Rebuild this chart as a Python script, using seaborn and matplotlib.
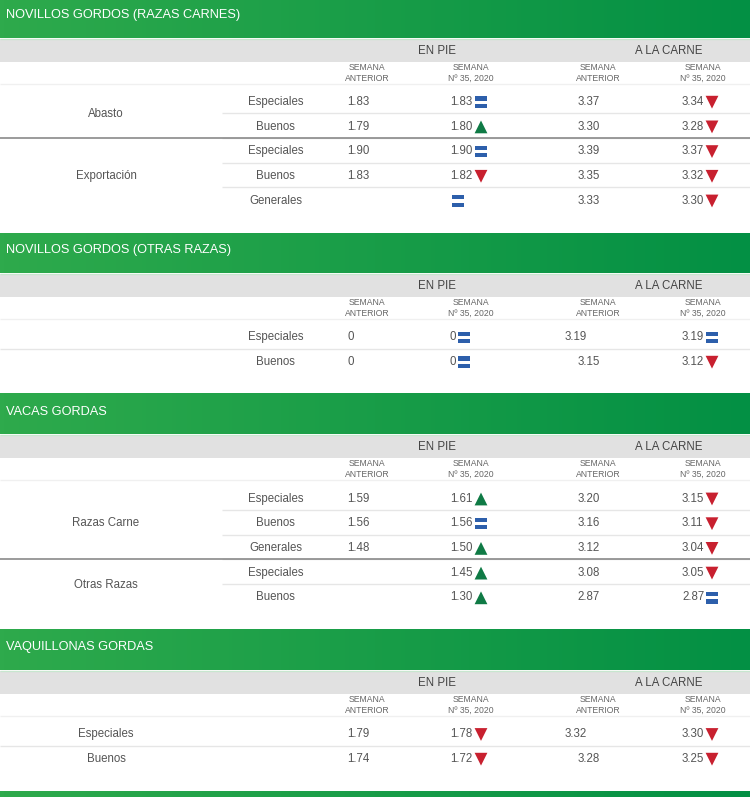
import numpy as np
import pandas as pd
import matplotlib.pyplot as plt
from matplotlib.path import Path
import seaborn as sns

sns.set_theme(style='white')
plt.rcParams['font.family'] = ['Liberation Sans', 'DejaVu Sans']

titles = ['NOVILLOS GORDOS (RAZAS CARNES)', 'NOVILLOS GORDOS (OTRAS RAZAS)', 'VACAS GORDAS', 'VAQUILLONAS GORDAS']

# groups and grades of each section
groups_1 = [('Abasto', 2), ('Exportación', 3)]
grades_1 = ['Especiales', 'Buenos', 'Especiales', 'Buenos', 'Generales']
prev_pie_1 = ['1.83', '1.79', '1.90', '1.83', '']
now_pie_1 = ['1.83', '1.80', '1.90', '1.82', '']
trend_pie_1 = ['eq', 'up', 'eq', 'down', 'eq']
prev_carne_1 = ['3.37', '3.30', '3.39', '3.35', '3.33']
now_carne_1 = ['3.34', '3.28', '3.37', '3.32', '3.30']
trend_carne_1 = ['down', 'down', 'down', 'down', 'down']

groups_2 = []
grades_2 = ['Especiales', 'Buenos']
prev_pie_2 = ['0', '0']
now_pie_2 = ['0', '0']
trend_pie_2 = ['eq', 'eq']
prev_carne_2 = ['3.19', '3.15']
now_carne_2 = ['3.19', '3.12']
trend_carne_2 = ['eq', 'down']

groups_3 = [('Razas Carne', 3), ('Otras Razas', 2)]
grades_3 = ['Especiales', 'Buenos', 'Generales', 'Especiales', 'Buenos']
prev_pie_3 = ['1.59', '1.56', '1.48', '', '']
now_pie_3 = ['1.61', '1.56', '1.50', '1.45', '1.30']
trend_pie_3 = ['up', 'eq', 'up', 'up', 'up']
prev_carne_3 = ['3.20', '3.16', '3.12', '3.08', '2.87']
now_carne_3 = ['3.15', '3.11', '3.04', '3.05', '2.87']
trend_carne_3 = ['down', 'down', 'down', 'down', 'eq']

groups_4 = []
grades_4 = ['Especiales', 'Buenos']
prev_pie_4 = ['1.79', '1.74']
now_pie_4 = ['1.78', '1.72']
trend_pie_4 = ['down', 'down']
prev_carne_4 = ['3.32', '3.28']
now_carne_4 = ['3.30', '3.25']
trend_carne_4 = ['down', 'down']

sections = [
    (groups_1, grades_1, prev_pie_1, now_pie_1, trend_pie_1, prev_carne_1, now_carne_1, trend_carne_1),
    (groups_2, grades_2, prev_pie_2, now_pie_2, trend_pie_2, prev_carne_2, now_carne_2, trend_carne_2),
    (groups_3, grades_3, prev_pie_3, now_pie_3, trend_pie_3, prev_carne_3, now_carne_3, trend_carne_3),
    (groups_4, grades_4, prev_pie_4, now_pie_4, trend_pie_4, prev_carne_4, now_carne_4, trend_carne_4),
]

# layout in pixels: band top, band bottom, title baseline, first row y, grade column x
band_top = [0, 233, 393, 629]
band_bot = [38, 273, 434, 670]
title_y = [17.5, 252.5, 414.5, 650]
row0_y = [100.7, 336, 497.5, 733]
grade_x = [275.5, 275.5, 275.5, 106]
row_h = 24.7
shift_carne = {(1, 0): -13, (3, 0): -13}

text_c = '#555555'
body_fs = 8.3
green_l = np.array([46, 170, 76])
green_r = np.array([3, 144, 68])

fig = plt.figure(figsize=(7.5, 7.97), dpi=100)
ax = fig.add_axes([0, 0, 1, 1])

grad = np.linspace(green_l, green_r, 200)[None, :, :] / 255
marks = []
for s, sec in enumerate(sections):
    groups, grades, prev_pie, now_pie, trend_pie, prev_carne, now_carne, trend_carne = sec
    t, b = band_top[s], band_bot[s]
    ax.imshow(grad, extent=[0, 750, b, t], aspect='auto', zorder=1)
    ax.hlines(b + 0.5, 0, 750, color='#c8e6cf', lw=1, zorder=2)
    ax.text(6, title_y[s], titles[s], color='white', fontsize=9.2, va='baseline', zorder=3)

    ax.fill_between([0, 750], b + 1, b + 24, color='#e1e1e1', lw=0, zorder=1)
    ax.text(437, b + 16, 'EN PIE', color='#444444', fontsize=body_fs, ha='center', va='baseline')
    ax.text(669, b + 16, 'A LA CARNE', color='#444444', fontsize=body_fs, ha='center', va='baseline')
    for x, lab in zip([367, 471, 598, 703], ['SEMANA\nANTERIOR', 'SEMANA\nNº 35, 2020'] * 2):
        ax.text(x, b + 35, lab, color='#666666', fontsize=6.2, ha='center', va='center', linespacing=1.3)
    ax.hlines(b + 46, 0, 750, color='#f0f0f0', lw=1)

    y0 = row0_y[s]
    line_x0 = 222 if groups else 0
    for i, g in enumerate(grades):
        y = y0 + i * row_h
        base = y + 4.2
        ax.text(grade_x[s], base, g, color=text_c, fontsize=body_fs, ha='center', va='baseline')
        ax.text(347, base, prev_pie[i], color=text_c, fontsize=body_fs, va='baseline')
        ax.text(450, base, now_pie[i], color=text_c, fontsize=body_fs, va='baseline')
        ax.text(589 + shift_carne.get((s, i), 0), base, prev_carne[i], color=text_c, fontsize=body_fs, ha='center', va='baseline')
        ax.text(682, base, now_carne[i], color=text_c, fontsize=body_fs, va='baseline')
        gap = {4: 31, 1: 14, 0: 8}[len(now_pie[i])]
        marks.append((450 + gap, y + 1.5, trend_pie[i]))
        marks.append((712, y + 1.5, trend_carne[i]))
        if i < len(grades) - 1:
            ax.hlines(y + 12.5, line_x0, 750, color='#e6e6e6', lw=1)

    # group labels, darker rule between groups
    start = 0
    for name, n in groups:
        ax.text(106, y0 + (start + (n - 1) / 2) * row_h + 4.2, name, color=text_c, fontsize=body_fs, ha='center', va='baseline')
        start += n
        if start < len(grades):
            ax.hlines(y0 + (start - 0.5) * row_h, 0, 750, color='#8a8a8a', lw=1.2, zorder=2)

# next band cut by the bottom edge
ax.imshow(grad, extent=[0, 750, 797, 791], aspect='auto', zorder=1)

eq_marker = Path([(-1, -0.9), (1, -0.9), (1, -0.25), (-1, -0.25), (-1, -0.9),
                  (-1, 0.25), (1, 0.25), (1, 0.9), (-1, 0.9), (-1, 0.25)],
                 [1, 2, 2, 2, 79, 1, 2, 2, 2, 79])
df_marks = pd.DataFrame(marks, columns=['x', 'y', 'trend'])
sns.scatterplot(data=df_marks, x='x', y='y', hue='trend', style='trend',
                palette={'up': '#0f7a45', 'down': '#c8202f', 'eq': '#2d5fab'},
                markers={'up': '^', 'down': 'v', 'eq': eq_marker},
                s=85, linewidth=0, legend=False, ax=ax, zorder=4)

ax.set_xlim(0, 750)
ax.set_ylim(797, 0)
ax.axis('off')
plt.savefig('out.png', dpi=100)
